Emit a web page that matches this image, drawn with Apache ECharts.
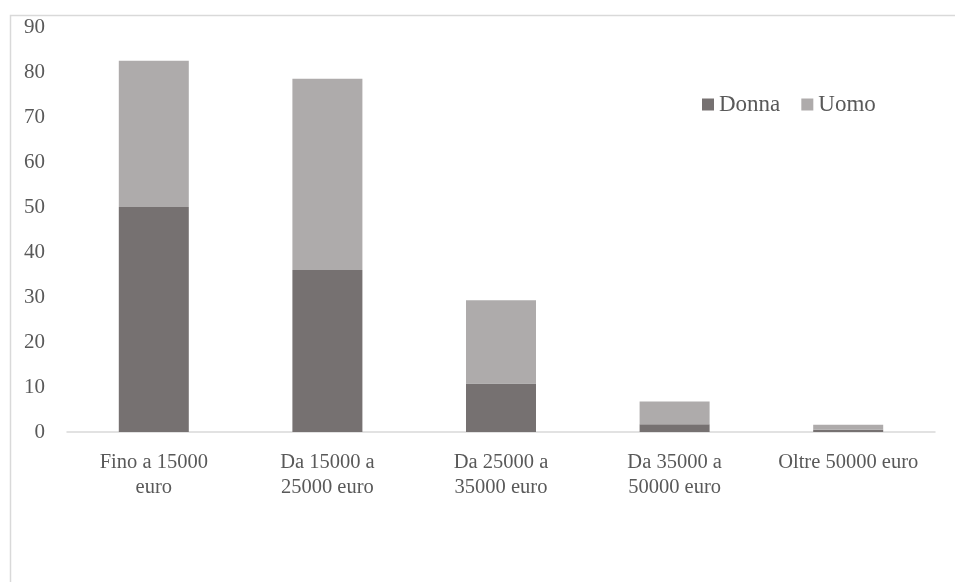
<!DOCTYPE html>
<html>
<head>
<meta charset="utf-8">
<script src="https://cdn.jsdelivr.net/npm/echarts@6/dist/echarts.min.js"></script>
<style>
  html, body { margin: 0; padding: 0; background: #fff; }
  #main { width: 955px; height: 582px; }
</style>
</head>
<body>
<div id="main"></div>
<script>
const categories = ['Fino a 15000\neuro', 'Da 15000 a\n25000 euro', 'Da 25000 a\n35000 euro', 'Da 35000 a\n50000 euro', 'Oltre 50000 euro'];
const donna = [50, 36, 10.8, 1.7, 0.5];
const uomo = [32.5, 42.5, 18.5, 5.1, 1.1];

const chart = echarts.init(document.getElementById('main'));
const font = { fontFamily: 'Liberation Serif', fontSize: 21, color: '#595959' };

var option = {
  animation: false,
  graphic: [
    {
      type: 'rect',
      shape: { x: 10.5, y: 15.5, width: 980, height: 620 },
      style: { fill: 'none', stroke: '#d9d9d9', lineWidth: 1.5 },
      silent: true
    }
  ],
  legend: {
    left: 702,
    top: 93,
    padding: 0,
    itemWidth: 12,
    itemHeight: 12,
    itemGap: 21,
    icon: 'rect',
    textStyle: Object.assign({}, font, { fontSize: 23 }),
    data: ['Donna', 'Uomo']
  },
  grid: {
    left: 67,
    right: 20,
    top: 27,
    bottom: 150
  },
  xAxis: {
    type: 'category',
    data: categories,
    axisTick: { show: false },
    axisLine: { lineStyle: { color: '#d9d9d9', width: 1.5 } },
    axisLabel: Object.assign({}, font, { fontSize: 20.5, interval: 0, margin: 18, lineHeight: 25 })
  },
  yAxis: {
    type: 'value',
    min: 0,
    max: 90,
    interval: 10,
    splitLine: { show: false },
    axisLine: { show: false },
    axisTick: { show: false },
    axisLabel: Object.assign({}, font, { margin: 22 })
  },
  series: [
    {
      name: 'Donna',
      type: 'bar',
      stack: 'tot',
      barWidth: 70,
      itemStyle: { color: '#767171' },
      data: donna
    },
    {
      name: 'Uomo',
      type: 'bar',
      stack: 'tot',
      barWidth: 70,
      itemStyle: { color: '#aeabab' },
      data: uomo
    }
  ]
};
chart.setOption(option);
</script>
</body>
</html>
